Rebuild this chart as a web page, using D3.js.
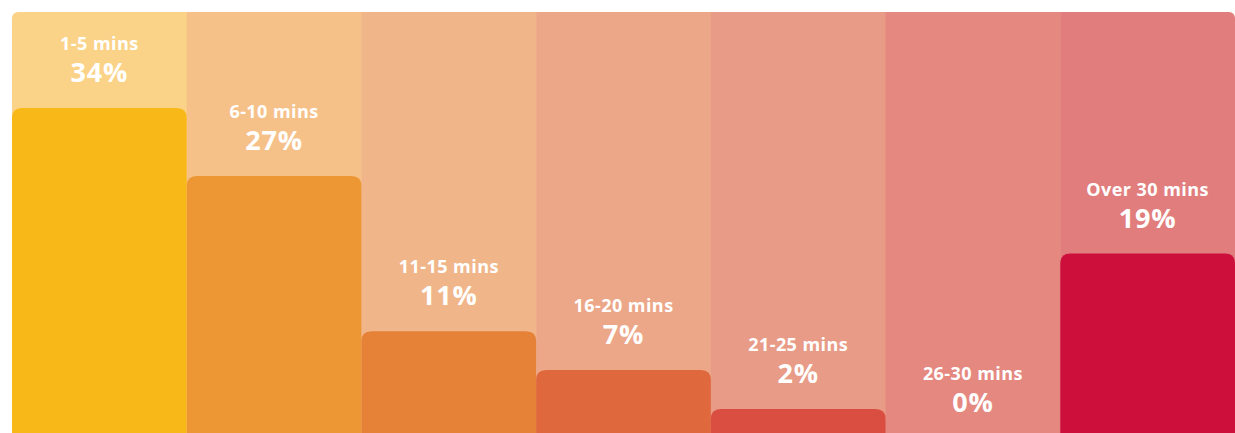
<!DOCTYPE html>
<html lang="en">
<head>
    <meta charset="UTF-8">
    <title>Travel time</title>
    <script src="https://d3js.org/d3.v7.min.js"></script>
    <style>
        body { margin: 0; background: #fff; }
        text { font-family: "Open Sans", Lato, sans-serif; font-weight: 700; fill: #fff; }
    </style>
</head>
<body>

<script>
    // categories and values
    const categories = ['1-5 mins', '6-10 mins', '11-15 mins', '16-20 mins', '21-25 mins', '26-30 mins', 'Over 30 mins'];
    const values = [34, 27, 11, 7, 2, 0, 19];
    const bgColors = ['#FBD388', '#F6C189', '#F0B68A', '#ECA688', '#E89B86', '#E5887F', '#E17E7D'];
    const barColors = ['#F8B918', '#EC9733', '#E68138', '#E0683D', '#D94E41', '#D3323F', '#CD0F3C'];

    const W = 1235, H = 433;
    const boxLeft = 12, boxRight = 1235, boxTop = 12, base = 438;
    const minBar = 29; // small bars get a minimum visible height

    const svg = d3.select("body").append("svg")
        .attr("width", W)
        .attr("height", H);

    const x = d3.scaleBand()
        .domain(categories)
        .range([boxLeft, boxRight])
        .padding(0);

    const y = d3.scaleLinear()
        .domain([0, 34])
        .range([base, 108]);

    // outer container with rounded top corners
    const clip = svg.append("clipPath").attr("id", "box");
    clip.append("rect")
        .attr("x", boxLeft).attr("y", boxTop)
        .attr("width", boxRight - boxLeft).attr("height", H + 20)
        .attr("rx", 6);

    const g = svg.append("g").attr("clip-path", "url(#box)");

    // background columns
    g.selectAll("rect.bg")
        .data(categories)
        .enter().append("rect")
        .attr("class", "bg")
        .attr("x", d => x(d))
        .attr("y", boxTop)
        .attr("width", x.bandwidth() + 0.5)
        .attr("height", H)
        .attr("fill", (d, i) => bgColors[i]);

    // bars with rounded top corners
    function barTop(v) {
        if (v <= 0) return base;
        return Math.min(y(v), base - minBar);
    }

    function topRounded(x0, y0, w, h, r) {
        return `M${x0},${y0 + h}V${y0 + r}Q${x0},${y0} ${x0 + r},${y0}H${x0 + w - r}Q${x0 + w},${y0} ${x0 + w},${y0 + r}V${y0 + h}Z`;
    }

    g.selectAll("path.bar")
        .data(categories.filter((d, i) => values[i] > 0))
        .enter().append("path")
        .attr("class", "bar")
        .attr("d", d => {
            const i = categories.indexOf(d);
            const t = barTop(values[i]);
            return topRounded(x(d), t, x.bandwidth(), H + 20 - t, 10);
        })
        .attr("fill", d => barColors[categories.indexOf(d)]);

    // labels
    const lab = svg.append("g");
    categories.forEach((d, i) => {
        const cx = x(d) + x.bandwidth() / 2;
        const t = barTop(values[i]);
        lab.append("text")
            .attr("x", cx)
            .attr("y", t - 58)
            .attr("text-anchor", "middle")
            .attr("font-size", 18)
            .attr("letter-spacing", 0.45)
            .text(d);
        lab.append("text")
            .attr("x", cx)
            .attr("y", t - 26)
            .attr("text-anchor", "middle")
            .attr("font-size", 27)
            .attr("letter-spacing", 0.8)
            .text(values[i] + "%");
    });
</script>

</body>
</html>
